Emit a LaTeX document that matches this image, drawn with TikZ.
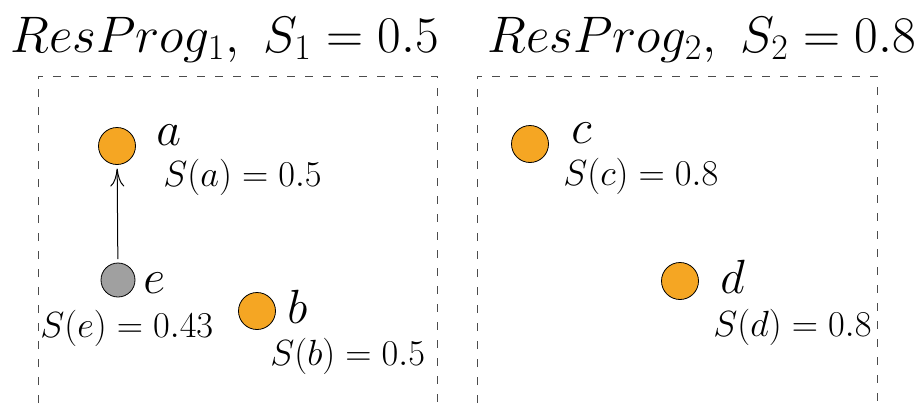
\RequirePackage{fix-cm}
\documentclass[tikz,border=0pt]{standalone}
\usetikzlibrary{arrows.meta}
\definecolor{resorange}{RGB}{245,166,35}
\definecolor{resgrey}{RGB}{160,160,160}

\begin{document}
\begin{tikzpicture}[x=0.5pt,y=-0.5pt,
  dot/.style={circle,draw,fill=resorange,minimum size=18.5pt,inner sep=0pt,outer sep=2pt},
  greydot/.style={dot,fill=resgrey,minimum size=17pt},
  title/.style={anchor=base west,inner sep=0pt,font=\fontsize{25.7}{30}\selectfont},
  lbl/.style={anchor=base west,inner sep=0pt,font=\fontsize{24}{28}\selectfont},
  score/.style={anchor=base west,inner sep=0pt,font=\fontsize{18.2}{21}\selectfont},
  frame/.style={draw=black!70,line width=0.5pt,dash pattern=on 4pt off 5pt},
  arr/.style={line width=0.5pt,-{Computer Modern Rightarrow[length=9pt,width=7pt]}}]
  \useasboundingbox (0,0) rectangle (917,403);
  % programs
  \node[title] (t1) at (10,52) {$ResProg_1,\ S_1=0.5$};
  \node[title] (t2) at (487,52) {$ResProg_2,\ S_2=0.8$};
  \draw[frame] (38,403) |- (437,76) -- (437,403);
  \draw[frame] (477,403) |- (877,76) -- (877,403);
  % first program
  \node[dot] (a) at (117,146) {};
  \node[greydot] (e) at (118,280) {};
  \node[dot] (b) at (257,311) {};
  \node[lbl] (la) at (156,145) {$a$};
  \node[score] (sa) at (163,186) {$S(a)=0.5$};
  \node[lbl] (le) at (143,293) {$e$};
  \node[score] (se) at (40,337) {$S(e)=0.43$};
  \node[lbl] (lb) at (287,323) {$b$};
  \node[score] (sb) at (270,365) {$S(b)=0.5$};
  \draw[arr] (e) -- (a);
  % second program
  \node[dot] (c) at (530,144) {};
  \node[dot] (d) at (680,281) {};
  \node[lbl] (lc) at (571,143) {$c$};
  \node[score] (sc) at (563,185) {$S(c)=0.8$};
  \node[lbl] (ld) at (720,293) {$d$};
  \node[score] (sd) at (713,336) {$S(d)=0.8$};
\end{tikzpicture}
\end{document}
